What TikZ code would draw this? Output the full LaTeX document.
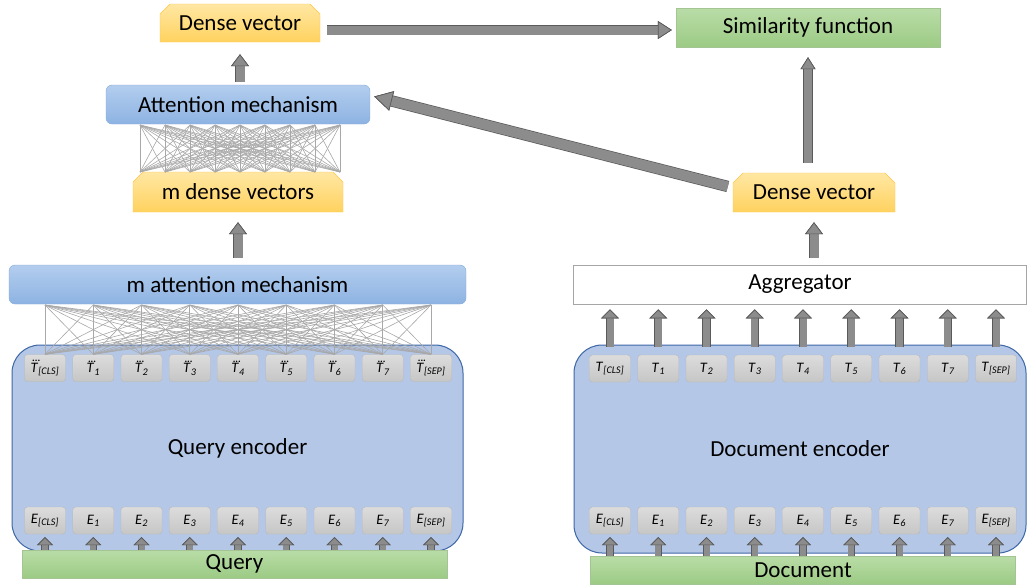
\documentclass[tikz,border=0pt]{standalone}
\usepackage{amsmath}
\usepackage{fontspec}
\setmainfont{Carlito}
\usepackage{tikz}
\usetikzlibrary{arrows.meta,shapes.misc}

\definecolor{yelltop}{HTML}{FFE7A3}
\definecolor{yellbot}{HTML}{FFD25F}
\definecolor{yelledge}{HTML}{FFC54A}
\definecolor{bluetop}{HTML}{B3CDEE}
\definecolor{bluebot}{HTML}{8DB3E2}
\definecolor{blueedge}{HTML}{84AADB}
\definecolor{greentop}{HTML}{B9DCA7}
\definecolor{greenbot}{HTML}{9CCB85}
\definecolor{greenedge}{HTML}{A3C493}
\definecolor{toktop}{HTML}{DCDCDC}
\definecolor{tokbot}{HTML}{C6C6C6}
\definecolor{tokedge}{HTML}{B8B8B8}
\definecolor{encfill}{HTML}{B4C7E7}
\definecolor{encedge}{HTML}{3E67A6}
\definecolor{arrowfill}{HTML}{8C8C8C}
\definecolor{arrowedge}{HTML}{5A5A5A}
\definecolor{meshgray}{HTML}{A8A8A8}

\newcommand{\dotT}[1]{\textit{\rlap{\raisebox{0.74em}{\kern0.1em\fontsize{10}{10}\selectfont\upshape\textbf{...}}}T}\textsubscript{\itshape #1}}
\newcommand{\tokname}[2]{\textit{#1}\textsubscript{\itshape #2}}

\tikzset{
  mainfont/.style={font=\fontsize{23}{27}\selectfont},
  yellbox/.style={chamfered rectangle, chamfered rectangle corners={north west,north east},
    chamfered rectangle xsep=5pt, chamfered rectangle ysep=5pt,
    top color=yelltop, bottom color=yellbot, draw=yelledge, inner sep=0pt, mainfont},
  bluebox/.style={rectangle, rounded corners=6pt, top color=bluetop, bottom color=bluebot,
    draw=blueedge, inner sep=0pt, mainfont},
  greenbox/.style={rectangle, top color=greentop, bottom color=greenbot, draw=greenedge,
    inner sep=0pt, mainfont},
  aggbox/.style={rectangle, fill=white, draw=gray!70, line width=0.8pt, inner sep=0pt, mainfont},
  encbox/.style={rectangle, rounded corners=28pt, fill=encfill, draw=encedge, line width=1pt,
    inner sep=0pt, mainfont},
  token/.style={rectangle, rounded corners=3pt, top color=toktop, bottom color=tokbot,
    draw=tokedge, minimum width=41pt, minimum height=27pt, inner sep=0pt,
    font=\fontsize{14.5}{16}\selectfont},
  meshline/.style={draw=meshgray, line width=0.6pt},
  barrow/.style n args={3}{
    preaction={draw=arrowedge, line width=#1+1.4pt,
      -{Triangle[length=#3, width=#2, line width=0.7pt]}},
    draw=arrowfill, line width=#1,
    -{Triangle[length=#3, width=#2, color=arrowedge, fill=arrowfill, line width=0.7pt]}}
}

\begin{document}
\begin{tikzpicture}[x=1pt,y=-1pt]
\useasboundingbox (0,0) rectangle (1027,587);

% query side
\node[yellbox, minimum width=160pt, minimum height=38pt] (densel) at (240,23) {Dense vector};
\node[bluebox, minimum width=264pt, minimum height=39pt] (attn) at (238,104.5) {Attention mechanism};
\node[yellbox, minimum width=210pt, minimum height=40pt] (mdense) at (238,192) {m dense vectors};
\node[bluebox, minimum width=457pt, minimum height=39pt] (mattn) at (237.5,284.5) {m attention mechanism};
\node[encbox, minimum width=451pt, minimum height=206pt] (qenc) at (237.5,448) {Query encoder};
\node[greenbox, minimum width=425pt, minimum height=28pt] (query) at (234.5,564) {Query};

% document side
\node[greenbox, minimum width=264pt, minimum height=39pt] (sim) at (808,27.5) {Similarity function};
\node[yellbox, minimum width=162pt, minimum height=39pt] (denser) at (814,192.5) {Dense vector};
\node[aggbox, minimum width=453pt, minimum height=39pt] (agg) at (800,284.5) {Aggregator};
\node[encbox, minimum width=452pt, minimum height=208pt] (denc) at (800,449) {Document encoder};
\node[greenbox, minimum width=425pt, minimum height=28pt] (doc) at (803,570) {Document};

% tokens
\foreach \s [count=\i from 0] in {{[CLS]},1,2,3,4,5,6,7,{[SEP]}} {
  \node[token] (lT\i) at ({45+48.25*\i},368) {\dotT{\s}};
  \node[token] (lE\i) at ({45+48.25*\i},520.5) {\tokname{E}{\s}};
  \node[token] (rT\i) at ({610+48.25*\i},368.5) {\tokname{T}{\s}};
  \node[token] (rE\i) at ({610+48.25*\i},520.5) {\tokname{E}{\s}};
}

% dense connections
\foreach \i in {0,...,8} {
  \coordinate (at\i) at ({140+25*\i},125);
  \coordinate (md\i) at ({140+25*\i},172);
  \coordinate (ma\i) at ({45+48.25*\i},305);
}
\foreach \i in {0,...,8}
  \foreach \j in {0,...,8} {
    \draw[meshline] (at\i) -- (md\j);
    \draw[meshline] (ma\i) -- (lT\j.north);
  }

% small arrows
\foreach \i in {0,...,8} {
  \draw[barrow={6pt}{16pt}{8pt}] (lE\i.south |- query.north) -- ([yshift=-3pt]lE\i.south);
  \draw[barrow={6pt}{16pt}{8pt}] (rE\i.south |- doc.north) -- ([yshift=-3pt]rE\i.south);
  \draw[barrow={7pt}{18pt}{9pt}] ([yshift=8pt]rT\i.north) -- ([yshift=-5pt]rT\i.north |- agg.south);
}

% main arrows
\draw[barrow={9pt}{18pt}{12pt}] ([yshift=3pt]densel.south |- attn.north) -- ([yshift=-12pt]densel.south);
\draw[barrow={9pt}{18pt}{12pt}] ([yshift=7pt]mdense.south |- mattn.north) -- ([yshift=-10pt]mdense.south);
\draw[barrow={9pt}{18pt}{12pt}] ([yshift=7pt]denser.south |- agg.north) -- ([yshift=-10pt]denser.south);
\draw[barrow={8pt}{15pt}{12pt}] ([yshift=10pt]sim.south |- denser.north) -- ([yshift=-10pt]sim.south);
\draw[barrow={9pt}{18pt}{14pt}] ([xshift=7pt,yshift=-7pt]densel.east) -- ([xshift=-4pt,yshift=-7pt]densel.east -| sim.west);
\draw[barrow={10pt}{20pt}{18pt}] ([xshift=-5pt,yshift=6pt]denser.west) -- ([xshift=4pt,yshift=8pt]attn.east);

\end{tikzpicture}
\end{document}
